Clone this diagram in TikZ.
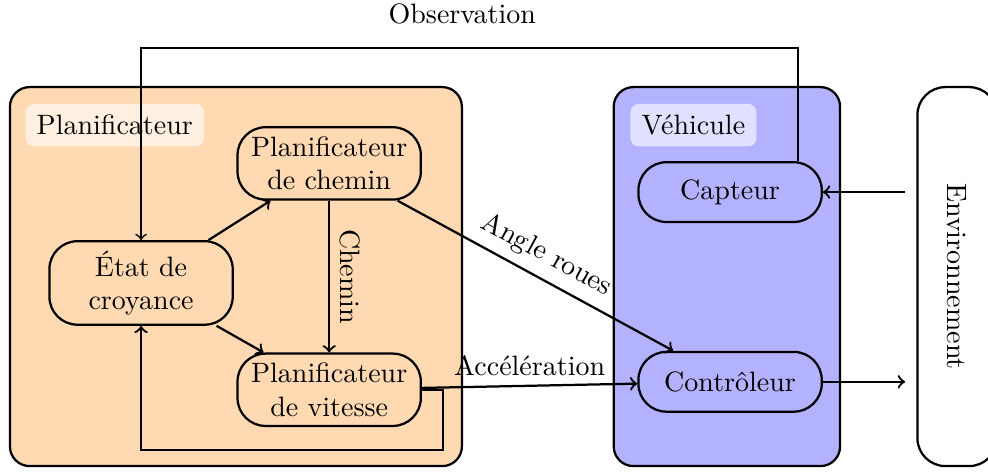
\documentclass[tikz,border=0pt]{standalone}
\usepackage{amsfonts, amssymb, amsmath}
\usepackage{tikz}

\begin{document}
\begin{tikzpicture}[
    bloc/.style={draw, thick, rounded corners=10pt, align=center, minimum width=2.3cm, minimum height=0.75cm},
    groupe/.style={draw, thick, rounded corners=7pt, minimum height=4.755cm},
    titre/.style={fill=white, fill opacity=0.6, text opacity=1, rounded corners=3pt, inner sep=4pt},
    fleche/.style={->, thick}]
  \useasboundingbox (0, 0) rectangle (12.396, -5.91);
  \node[groupe, fill=orange!30, minimum width=5.67cm] (planif) at (2.96, -3.47) {};
  \node[groupe, fill=blue!30, minimum width=2.84cm] (vehicule) at (9.12, -3.47) {};
  \node[groupe, rotate=-90, minimum width=4.755cm, minimum height=1cm, rounded corners=10pt] (env) at (12.01, -3.47) {Environnement};
  \node[titre] (planiftitre) at (1.44, -1.57) {Planificateur};
  \node[titre] (vehiculetitre) at (8.70, -1.57) {Véhicule};

  \node[bloc] (croyance) at (1.77, -3.55) {État de\\croyance};
  \node[bloc] (chemin) at (4.13, -2.05) {Planificateur\\de chemin};
  \node[bloc] (vitesse) at (4.13, -4.89) {Planificateur\\de vitesse};
  \node[bloc] (capteur) at (9.16, -2.41) {Capteur};
  \node[bloc] (controleur) at (9.16, -4.79) {Contrôleur};

  \draw[fleche] (croyance) -- (chemin);
  \draw[fleche] (croyance) -- (vitesse);
  \draw[fleche] (chemin) -- node[sloped, above] (chemintxt) {Chemin} (vitesse);
  \draw[fleche] (chemin) -- node[sloped, above] (angletxt) {Angle roues} (controleur);
  \draw[fleche] (vitesse) -- node[above] (acceltxt) {Accélération} (controleur);
  \draw[fleche] (vitesse.east) -| ++(0.26, -0.755) -| (croyance.south);

  \coordinate (obshaut) at (5.8, -0.6);
  \draw[->, semithick] ([xshift=0.85cm]capteur.north) |- (obshaut) -| (croyance.north);
  \node (obstxt) at (5.8, -0.18) {Observation};

  \draw[fleche, shorten <=4pt] (capteur.east -| env.south) -- (capteur.east);
  \draw[fleche, shorten >=4pt] (controleur.east) -- (controleur.east -| env.south);
\end{tikzpicture}
\end{document}
